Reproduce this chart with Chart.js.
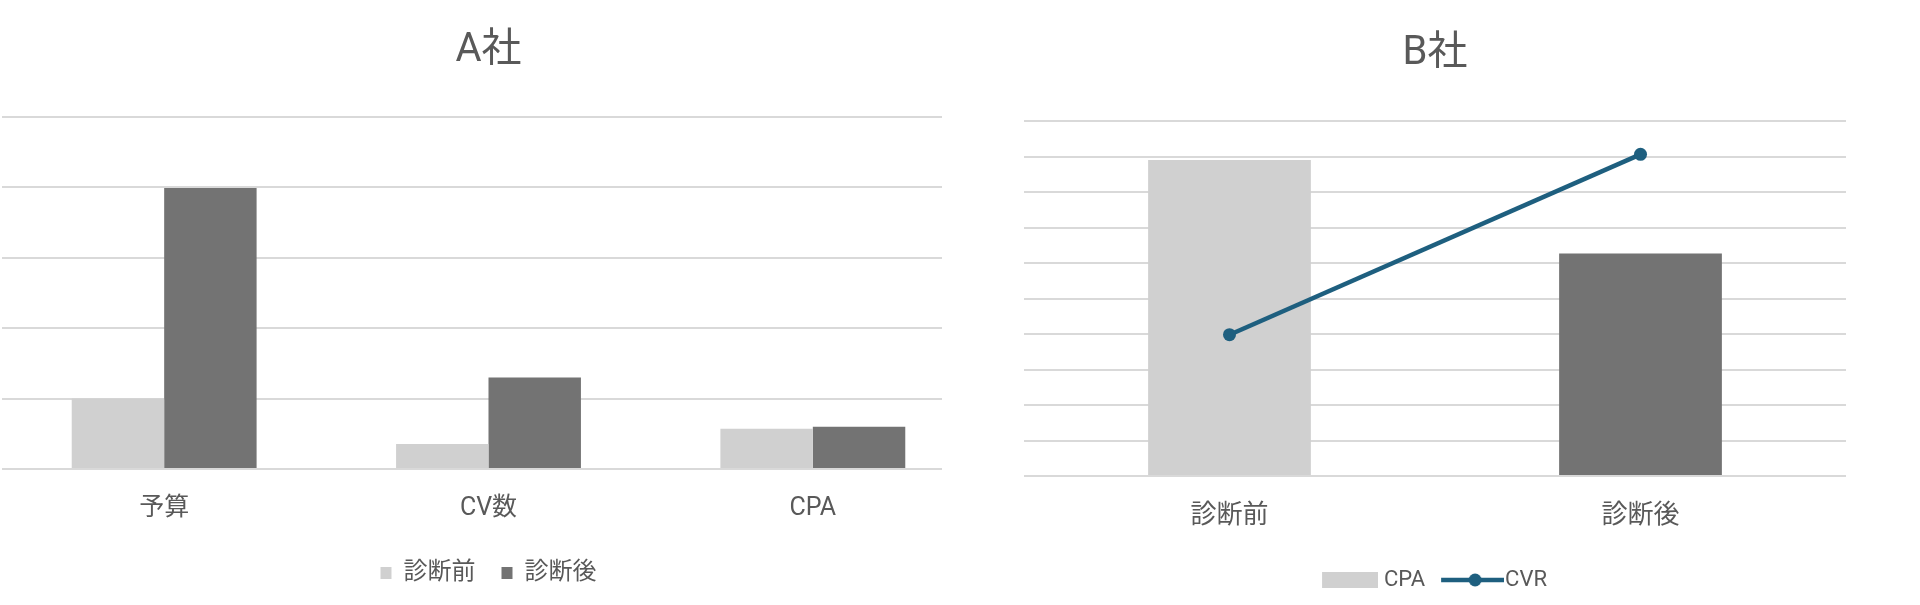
<!DOCTYPE html>
<html>
<head>
<meta charset="utf-8">
<script src="https://cdn.jsdelivr.net/npm/chart.js@4.4.1/dist/chart.umd.min.js"></script>
<style>
  html, body { margin: 0; padding: 0; background: #fff; overflow: hidden; width: 1920px; height: 605px; }
  #chartA { position: absolute; left: 0; top: 0; }
  #chartB { position: absolute; left: 942px; top: 0; background: #fff; z-index: 1; }
</style>
</head>
<body>
<canvas id="chartA" width="977" height="605"></canvas>
<canvas id="chartB" width="986" height="605"></canvas>
<script>
// A社
const labelsA = ["予算", "CV数", "CPA"];
const beforeA = [1.0, 0.355, 0.57];
const afterA = [3.99, 1.3, 0.6];

// B社
const labelsB = ["診断前", "診断後"];
const cpaB = [8.9, 6.27];
const cvrB = [3.98, 9.06];

const fontFamily = "Roboto, 'Noto Sans CJK JP', sans-serif";
const textColor = "#595959";
const gridColor = "#d9d9d9";
const lightGray = "#d0d0d0";
const darkGray = "#737373";
const blue = "#1e5f7f";

Chart.defaults.font.family = fontFamily;
Chart.defaults.color = textColor;

// legend markers for B社 (rect and line with dot)
function cpaMarker() {
  const c = document.createElement("canvas");
  c.width = 60;
  c.height = 16;
  const ctx = c.getContext("2d");
  ctx.fillStyle = lightGray;
  ctx.fillRect(4, 0, 56, 16);
  return c;
}
function cvrMarker() {
  const c = document.createElement("canvas");
  c.width = 70;
  c.height = 14;
  const ctx = c.getContext("2d");
  ctx.strokeStyle = blue;
  ctx.lineWidth = 4.5;
  ctx.beginPath();
  ctx.moveTo(7, 7);
  ctx.lineTo(70, 7);
  ctx.stroke();
  ctx.fillStyle = blue;
  ctx.beginPath();
  ctx.arc(41, 7, 6.5, 0, Math.PI * 2);
  ctx.fill();
  return c;
}

const configA = {
  type: "bar",
  data: {
    labels: labelsA,
    datasets: [
      { label: "診断前", data: beforeA, backgroundColor: lightGray, borderWidth: 0 },
      { label: "診断後", data: afterA, backgroundColor: darkGray, borderWidth: 0 },
    ],
  },
  options: {
    responsive: false,
    animation: false,
    layout: { padding: { left: 2, right: 2, top: 0, bottom: 10 } },
    datasets: { bar: { categoryPercentage: 0.57, barPercentage: 1 } },
    scales: {
      x: {
        grid: { display: false, drawTicks: false },
        border: { display: false },
        ticks: { padding: 25, font: { size: 25 }, color: textColor },
        afterFit: (scale) => { scale.height = 66; },
      },
      y: {
        min: 0,
        max: 5,
        ticks: { display: false, stepSize: 1 },
        grid: { color: gridColor, lineWidth: 2, drawTicks: false },
        border: { display: false },
      },
    },
    plugins: {
      title: {
        display: true,
        text: "A社",
        font: { size: 40, weight: "normal" },
        color: textColor,
        padding: { top: 27, bottom: 42 },
      },
      legend: {
        position: "bottom",
        labels: { boxWidth: 11, boxHeight: 12, padding: 26, font: { size: 24 }, color: textColor },
      },
      tooltip: { enabled: false },
    },
  },
};

const markers = [cpaMarker(), cvrMarker()];

const configB = {
  type: "bar",
  data: {
    labels: labelsB,
    datasets: [
      {
        label: "CPA",
        data: cpaB,
        backgroundColor: [lightGray, darkGray],
        borderWidth: 0,
        categoryPercentage: 0.396,
        barPercentage: 1,
        order: 1,
      },
      {
        type: "line",
        label: "CVR",
        data: cvrB,
        borderColor: blue,
        backgroundColor: blue,
        borderWidth: 4.5,
        pointRadius: 6.5,
        pointBackgroundColor: blue,
        pointBorderWidth: 0,
        order: 0,
      },
    ],
  },
  options: {
    responsive: false,
    animation: false,
    layout: { padding: { left: 82, right: 82, top: 0, bottom: 4 } },
    scales: {
      x: {
        grid: { display: false, drawTicks: false },
        border: { display: false },
        ticks: { padding: 25, font: { size: 26 }, color: textColor },
        afterFit: (scale) => { scale.height = 74; },
      },
      y: {
        min: 0,
        max: 10,
        ticks: { display: false, stepSize: 1 },
        grid: { color: gridColor, lineWidth: 2, drawTicks: false },
        border: { display: false },
      },
    },
    plugins: {
      title: {
        display: true,
        text: "B社",
        font: { size: 40, weight: "normal" },
        color: textColor,
        padding: { top: 30, bottom: 43 },
      },
      legend: {
        position: "bottom",
        labels: {
          usePointStyle: true,
          pointStyleWidth: 50,
          padding: 19,
          font: { size: 22 },
          color: textColor,
          generateLabels: (chart) => {
            const items = Chart.defaults.plugins.legend.labels.generateLabels(chart);
            items.sort((a, b) => a.datasetIndex - b.datasetIndex);
            items.forEach((it) => { it.pointStyle = markers[it.datasetIndex]; });
            return items;
          },
        },
      },
      tooltip: { enabled: false },
    },
  },
};

new Chart(document.getElementById("chartA"), configA);
new Chart(document.getElementById("chartB"), configB);
</script>
</body>
</html>
